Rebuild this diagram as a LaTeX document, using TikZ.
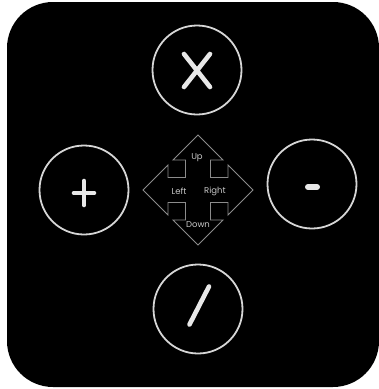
\documentclass[tikz,border=0pt]{standalone}
\usepackage{fontspec}
\newfontfamily\padfont{Poppins}
\definecolor{ringgray}{HTML}{D6D6D6}
\definecolor{symwhite}{HTML}{E8E8E8}
\definecolor{padgray}{HTML}{8C8C8C}
\definecolor{lblgray}{HTML}{C8C8C8}
\begin{document}
\begin{tikzpicture}[x=1pt,y=-1pt,
    btn/.style={circle,draw=ringgray,line width=1.8pt,minimum size=89pt,inner sep=0pt},
    sym/.style={draw=symwhite,line width=4.6pt,line cap=round},
    lbl/.style={text=lblgray,font=\padfont\fontsize{8.5}{8.5}\selectfont,inner sep=0pt}]
  \useasboundingbox (0,0) rectangle (379,389);
  \fill[black,rounded corners=46pt] (7,2) rectangle (379,387);
  % four round keys
  \node[btn] (close) at (197,70) {};
  \node[btn] (plus) at (84,190) {};
  \node[btn] (minus) at (312,184) {};
  \node[btn] (edit) at (198,309) {};
  \draw[sym,shift={(close.center)}] (-13,-16) -- (13,17) (13,-16) -- (-13,17);
  \draw[sym,shift={(plus.center)}] (-10,3) -- (10,3) (0,-9) -- (0,15);
  \draw[sym,line width=6pt,shift={(minus.center)}] (-4,3) -- (5,3);
  \draw[sym,shift={(edit.center)}] (11,-22.5) -- (-8.5,15.5);
  % direction pad
  \coordinate (pad) at (198,190);
  \begin{scope}[shift={(pad)}]
    \draw[padgray,line width=0.9pt,line join=miter]
      (0,-55) -- (25,-30) -- (12.5,-30) -- (12.5,-12.5) -- (30,-12.5) -- (30,-25)
      -- (55,0) -- (30,25) -- (30,12.5) -- (12.5,12.5) -- (12.5,30) -- (25,30)
      -- (0,55) -- (-25,30) -- (-12.5,30) -- (-12.5,12.5) -- (-30,12.5) -- (-30,25)
      -- (-55,0) -- (-30,-25) -- (-30,-12.5) -- (-12.5,-12.5) -- (-12.5,-30) -- (-25,-30)
      -- cycle;
    \node[lbl] (up) at (-1,-32) {Up};
    \node[lbl] (left) at (-19,1) {Left};
    \node[lbl] (right) at (17,1) {Right};
    \node[lbl] (down) at (0,35) {Down};
  \end{scope}
\end{tikzpicture}
\end{document}
